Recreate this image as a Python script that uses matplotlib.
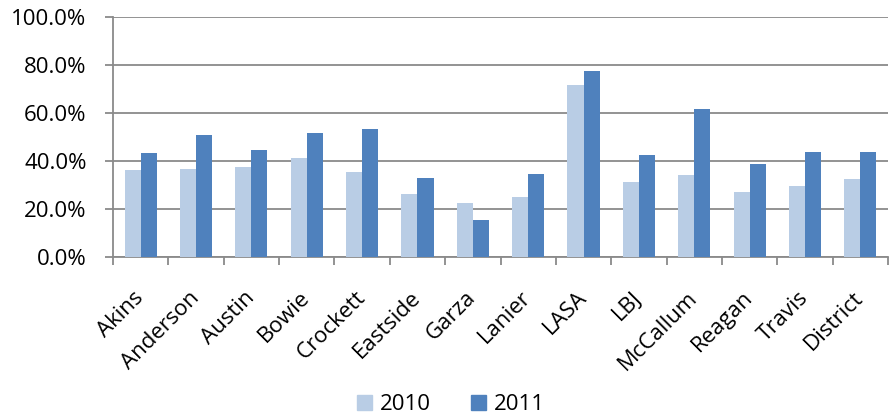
import numpy as np
import matplotlib.pyplot as plt
from matplotlib.patches import Patch

schools = ['Akins', 'Anderson', 'Austin', 'Bowie', 'Crockett', 'Eastside', 'Garza',
           'Lanier', 'LASA', 'LBJ', 'McCallum', 'Reagan', 'Travis', 'District']
y2010 = [36.1, 36.5, 37.5, 41.1, 35.3, 26.1, 22.4, 24.9, 71.5, 31.1, 34.0, 27.0, 29.5, 32.4]
y2011 = [43.2, 50.7, 44.5, 51.5, 53.2, 32.8, 15.3, 34.5, 77.4, 42.4, 61.5, 38.6, 43.6, 43.6]
years = ['2010', '2011']
colors = ['#B9CDE5', '#4F81BD']

plt.rcParams['font.family'] = ['Open Sans', 'DejaVu Sans']

fig = plt.figure(figsize=(8.9, 4.17), dpi=100)
ax = fig.add_axes([113/890, 160/417, 775/890, 240/417])

x = np.arange(len(schools))
w = 0.29
ax.bar(x - w/2, y2010, w, color=colors[0], zorder=3)
ax.bar(x + w/2, y2011, w, color=colors[1], zorder=3)

ax.set_xlim(-0.5, len(schools) - 0.5)
ax.set_ylim(0, 100)
ax.set_yticks(np.arange(0, 101, 20))
ax.set_yticklabels(['%.1f%%' % v for v in np.arange(0, 101, 20)], fontsize=16)
ax.yaxis.grid(True, color='#8a8a8a', linewidth=1.3, zorder=0)

# boundary ticks below the axis, labels at the category centres
ax.set_xticks(np.arange(-0.5, len(schools)), minor=True)
ax.set_xticks(x)
ax.set_xticklabels(schools, rotation=45, ha='right', va='center',
                   rotation_mode='anchor', fontsize=16)
ax.tick_params(axis='x', which='major', length=0, pad=27)
ax.tick_params(axis='x', which='minor', length=6, color='#8a8a8a', width=1.3)
ax.tick_params(axis='y', length=6, color='#8a8a8a', width=1.3, pad=13)

for s in ['top', 'right']:
    ax.spines[s].set_visible(False)
for s in ['left', 'bottom']:
    ax.spines[s].set_color('#8a8a8a')
    ax.spines[s].set_linewidth(1.3)

handles = [Patch(color=c) for c in colors]
fig.legend(handles, years, loc='center', bbox_to_anchor=(451/890, 12/417), ncol=2,
           frameon=False, fontsize=16, handlelength=0.68, handleheight=0.68,
           handletextpad=0.36, columnspacing=1.8, borderpad=0)

fig.savefig('out.png', dpi=100)
